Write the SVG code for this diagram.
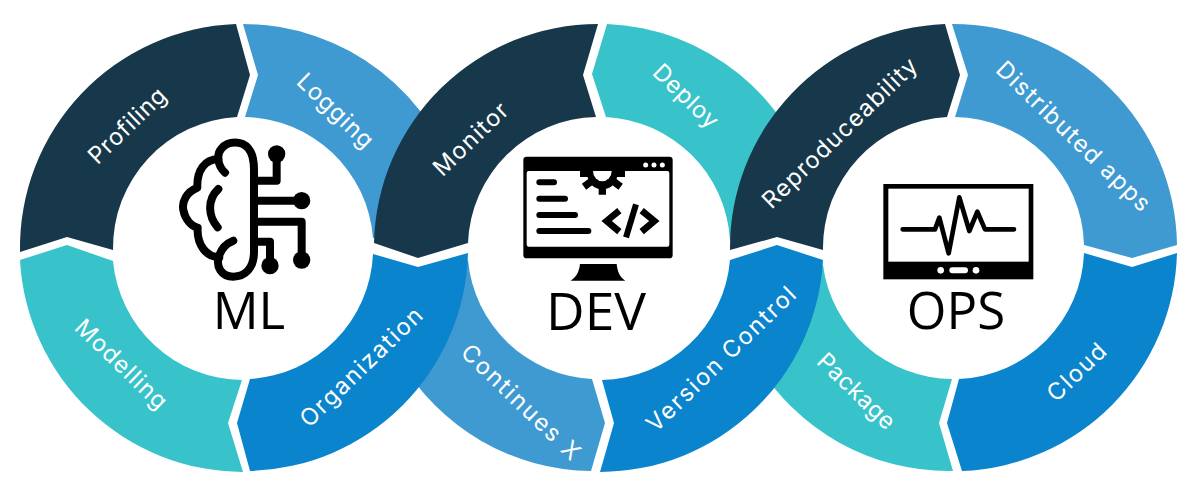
<svg xmlns="http://www.w3.org/2000/svg" width="1196" height="501" viewBox="0 0 1196 501">
<style>
.dark{fill:#17384a}.sky{fill:#3f9ad2}.teal{fill:#38c3cb}.blue{fill:#0a84cc}
.lab{font-family:"Inter","Open Sans",sans-serif;font-size:23.5px;fill:#fff;text-anchor:middle}
.hub{font-family:"Open Sans","Noto Sans",sans-serif;font-size:51px;fill:#000;text-anchor:middle}
.ln{fill:none;stroke:#000;stroke-linecap:round;stroke-linejoin:round}
</style>
<rect width="1196" height="501" fill="#fff"/>
<g id="connectors"/>
<g id="seg-logging"><path class="sky" d="M243,24A224,224 0 0 1 460,193L420,235L373,238A131,131 0 0 0 245,117L258,75Z"/></g>
<g id="seg-continues"><path class="sky" d="M591,471A224,224 0 0 1 400,360L418,300L468,260A131,131 0 0 0 592,379L605,423Z"/></g>
<g id="seg-deploy"><path class="teal" d="M607,24A224,224 0 0 1 815,193L777,225L730,240A131,131 0 0 0 606,117L592,74Z"/></g>
<g id="seg-package"><path class="teal" d="M953,471A224,224 0 0 1 755,360L777,300L823,265A131,131 0 0 0 952,379L939,423Z"/></g>
<g id="seg-profiling"><path class="dark" d="M20,252A224,224 0 0 1 236,24L250,75L237,117A131,131 0 0 0 113,250L67,237Z"/></g>
<g id="seg-modelling"><path class="teal" d="M243,472A224,224 0 0 1 20,260L67,245L113,261A131,131 0 0 0 242,380L228,423Z"/></g>
<g id="seg-organization"><path class="blue" d="M250,379A131,131 0 0 0 373,254L418,267L468,253A224,224 0 0 1 250,471L237,423Z"/></g>
<g id="seg-monitor"><path class="dark" d="M374,243A224,224 0 0 1 598,24L583,75L596,117A131,131 0 0 0 468,243L418,258Z"/></g>
<g id="seg-version"><path class="blue" d="M823,260A224,224 0 0 1 600,472L614,423L602,380A131,131 0 0 0 730,260L777,245Z"/></g>
<g id="seg-repro"><path class="dark" d="M730,250A224,224 0 0 1 945,24L960,75L947,117A131,131 0 0 0 823,250L777,237Z"/></g>
<g id="seg-distributed"><path class="sky" d="M952,24A224,224 0 0 1 1177,245L1132,258L1084,245A131,131 0 0 0 955,117L968,75Z"/></g>
<g id="seg-cloud"><path class="blue" d="M1084,253L1132,267L1177,253A224,224 0 0 1 962,471L947,423L959,379A131,131 0 0 0 1084,253Z"/></g>

<g id="labels">
<text class="lab" transform="translate(127.5,126) rotate(-44)" y="7.5" textLength="98">Profiling</text>
<text class="lab" transform="translate(335,111) rotate(44)" y="7.5" textLength="96">Logging</text>
<text class="lab" transform="translate(121,364.5) rotate(44)" y="7.5" textLength="118">Modelling</text>
<text class="lab" transform="translate(361.5,367.5) rotate(-44)" y="7.5" textLength="160">Organization</text>
<text class="lab" transform="translate(471,139.5) rotate(-44)" y="7.5" textLength="94">Monitor</text>
<text class="lab" transform="translate(685.5,96.5) rotate(44)" y="7.5" textLength="81">Deploy</text>
<text class="lab" transform="translate(520.5,402.5) rotate(44)" y="7.5" textLength="155">Continues X</text>
<text class="lab" transform="translate(721.5,359.5) rotate(-44)" y="7.5" textLength="197">Version Control</text>
<text class="lab" transform="translate(856,391.5) rotate(44)" y="7.5" textLength="98">Package</text>
<text class="lab" transform="translate(840,133.5) rotate(-44)" y="7.5" textLength="205">Reproduceability</text>
<text class="lab" transform="translate(1073,136.5) rotate(44)" y="7.5" textLength="204">Distributed apps</text>
<text class="lab" transform="translate(1077,372.5) rotate(-44)" y="7.5" textLength="72">Cloud</text>
</g>

<g id="hub-ml">
<g transform="translate(150,120) scale(.33333)">
<path class="ln" stroke-width="24" d="M225,158C200,135 200,100 215,85C235,62 275,62 295,85C308,100 312,125 312,150V395C312,445 285,470 250,470C215,470 195,440 208,405C215,385 230,370 250,362"/>
<path class="ln" stroke-width="24" d="M205,118C165,118 140,150 142,203C110,215 95,245 100,270C105,298 125,320 143,323C140,375 170,412 208,412"/>
<path class="ln" stroke-width="24" d="M205,207C170,240 175,290 203,322"/>
<path class="ln" stroke-width="24" d="M312,182H380V105M312,242H455M312,305H455V420M312,365H360V437"/>
<circle cx="380" cy="102" r="26"/><circle cx="455" cy="242" r="26"/><circle cx="455" cy="420" r="26"/><circle cx="360" cy="437" r="26"/>
</g>
<text class="hub" x="249" y="329">ML</text>
</g>

<g id="hub-dev">
<g transform="translate(500,140) scale(.33333)">
<rect x="70" y="50" width="448" height="305" rx="10"/>
<rect x="80" y="93" width="428" height="227" rx="6" fill="#fff"/>
<circle cx="307" cy="103" r="45"/>
<path class="ln" stroke-width="22" style="stroke-linecap:butt" d="M307,100V164M307,100L252,140M307,100L362,140M240,100H375"/>
<rect x="238" y="70" width="137" height="23"/>
<path fill="#fff" d="M279,93H335A28,31 0 0 1 279,93Z"/>
<path class="ln" stroke-width="18" d="M118,127H162M118,176H195M118,225H225M118,273H265"/>
<path class="ln" stroke-width="20" style="stroke-linecap:butt;stroke-linejoin:miter" d="M358,212L320,243L358,275M425,212L463,243L425,275"/>
<path class="ln" stroke-width="18" style="stroke-linecap:butt" d="M408,193L378,292"/>
<circle cx="437" cy="75" r="7.5" fill="#fff"/><circle cx="462" cy="75" r="7.5" fill="#fff"/><circle cx="487" cy="75" r="7.5" fill="#fff"/>
<path d="M240,372H350C352,395 360,412 376,422H212C228,412 238,395 240,372Z"/>
</g>
<text class="hub" x="596" y="330" textLength="100" lengthAdjust="spacingAndGlyphs">DEV</text>
</g>

<g id="hub-ops">
<g transform="translate(870,170) scale(.33333)">
<rect x="40" y="42" width="450" height="286"/>
<rect x="55" y="56" width="421" height="219" fill="#fff"/>
<path class="ln" stroke-width="14" d="M98,178H195L208,143L236,250L268,82L298,183L322,125L345,178H432"/>
<circle cx="212" cy="301" r="10" fill="#fff"/><rect x="238" y="292" width="56" height="18" rx="9" fill="#fff"/><circle cx="318" cy="301" r="10" fill="#fff"/>
</g>
<text class="hub" x="956" y="329">OPS</text>
</g>
</svg>
